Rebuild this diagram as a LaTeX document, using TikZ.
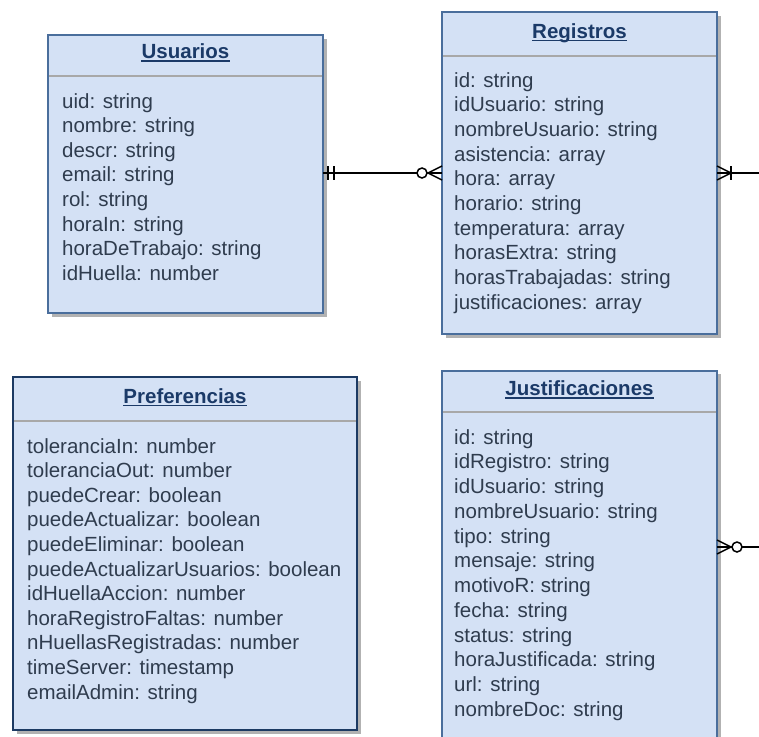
\documentclass[tikz,border=0pt]{standalone}
\usepackage{fontspec}
\setmainfont{Liberation Sans}
\usetikzlibrary{shadows}

\definecolor{entfill}{HTML}{D4E1F5}
\definecolor{entline}{HTML}{4A6E9C}
\definecolor{entdark}{HTML}{1C3A63}
\definecolor{hdrtext}{HTML}{1B3A68}
\definecolor{bodytext}{HTML}{2F3C4E}
\definecolor{sepline}{HTML}{A8A8A8}

\tikzset{
  entity/.style={draw=entline, line width=2pt, fill=entfill, anchor=north west,
    inner sep=0pt, outer sep=0pt,
    drop shadow={shadow xshift=3.5pt, shadow yshift=-3.5pt, fill=black!30, opacity=1}},
  title/.style={font=\fontsize{20.5}{24}\selectfont\bfseries, text=hdrtext, inner sep=0pt, anchor=base},
  field/.style={font=\fontsize{20.5}{24}\selectfont, text=bodytext, inner sep=0pt, anchor=base west},
  sepbar/.style={draw=sepline, line width=2pt},
  uline/.style={draw=hdrtext, line width=1.4pt},
  rel/.style={draw=black, line width=1.5pt},
  ring/.style={draw=black, line width=1.5pt, fill=white},
}

\begin{document}
\begin{tikzpicture}[x=1pt, y=-1pt]
\useasboundingbox (0,0) rectangle (759,736);
\clip (0,0) rectangle (759,736);

% ---------- Usuarios ----------
\node[entity, minimum width=275pt, minimum height=278pt] (usu) at (48,35) {};
\node[title] (usuT) at (185.5,58.5) {Usuarios};
\draw[uline] ([yshift=-2.5pt]usuT.base west) -- ([yshift=-2.5pt]usuT.base east);
\draw[sepbar] ([xshift=1pt,yshift=-41pt]usu.north west) -- ([xshift=-1pt,yshift=-41pt]usu.north east);
\foreach \t [count=\i from 0] in {uid: string, nombre: string, descr: string, email: string,
    rol: string, horaIn: string, horaDeTrabajo: string, idHuella: number}
  \node[field] (usuF\i) at (62,{108+24.6*\i}) {\t};

% ---------- Registros ----------
\node[entity, minimum width=275pt, minimum height=322pt] (reg) at (442,12) {};
\node[title] (regT) at (579.5,38) {Registros};
\draw[uline] ([yshift=-2.5pt]regT.base west) -- ([yshift=-2.5pt]regT.base east);
\draw[sepbar] ([xshift=1pt,yshift=-44pt]reg.north west) -- ([xshift=-1pt,yshift=-44pt]reg.north east);
\foreach \t [count=\i from 0] in {id: string, idUsuario: string, nombreUsuario: string,
    asistencia: array, hora: array, horario: string, temperatura: array,
    horasExtra: string, horasTrabajadas: string, justificaciones: array}
  \node[field] (regF\i) at (454,{87+24.7*\i}) {\t};

% ---------- Preferencias ----------
\node[entity, draw=entdark, line width=2.5pt, minimum width=344pt, minimum height=353pt] (pref) at (13,377) {};
\node[title] (prefT) at (185,403) {Preferencias};
\draw[uline] ([yshift=-2.5pt]prefT.base west) -- ([yshift=-2.5pt]prefT.base east);
\draw[sepbar] ([xshift=1.3pt,yshift=-44pt]pref.north west) -- ([xshift=-1.3pt,yshift=-44pt]pref.north east);
\foreach \t [count=\i from 0] in {toleranciaIn: number, toleranciaOut: number, puedeCrear: boolean,
    puedeActualizar: boolean, puedeEliminar: boolean, puedeActualizarUsuarios: boolean,
    idHuellaAccion: number, horaRegistroFaltas: number, nHuellasRegistradas: number,
    timeServer: timestamp, emailAdmin: string}
  \node[field] (prefF\i) at (27,{453+24.6*\i}) {\t};

% ---------- Justificaciones ----------
\node[entity, minimum width=275pt, minimum height=380pt] (jus) at (442,370.5) {};
\node[title] (jusT) at (579.5,395.5) {Justificaciones};
\draw[uline] ([yshift=-2.5pt]jusT.base west) -- ([yshift=-2.5pt]jusT.base east);
\draw[sepbar] ([xshift=1pt,yshift=-41.5pt]jus.north west) -- ([xshift=-1pt,yshift=-41.5pt]jus.north east);
\foreach \t [count=\i from 0] in {id: string, idRegistro: string, idUsuario: string,
    nombreUsuario: string, tipo: string, mensaje: string, motivoR: string, fecha: string,
    status: string, horaJustificada: string, url: string, nombreDoc: string}
  \node[field] (jusF\i) at (454,{444+24.75*\i}) {\t};

% ---------- Relationships ----------
\coordinate (yA) at (0,173);
\coordinate (yB) at (0,547);
\coordinate (usuR) at (usu.east |- yA);
\coordinate (regL) at (reg.west |- yA);
\coordinate (regR) at (reg.east |- yA);
\coordinate (jusR) at (jus.east |- yB);
\coordinate (outA) at (759,173);
\coordinate (outB) at (759,547);

% Usuarios (exactly one) -- Registros (zero or many)
\draw[rel] (usuR) -- (regL);
\draw[rel] ([xshift=5pt]usuR) ++(0,-7) -- ++(0,14);
\draw[rel] ([xshift=11pt]usuR) ++(0,-7) -- ++(0,14);
\draw[rel] ([yshift=7pt]regL) -- ([xshift=-14pt]regL) -- ([yshift=-7pt]regL);
\draw[ring] ([xshift=-20pt]regL) circle[radius=5pt];

% Registros (one or many) -- outgoing
\draw[rel] (regR) -- (outA);
\draw[rel] ([yshift=7pt]regR) -- ([xshift=14pt]regR) -- ([yshift=-7pt]regR);
\draw[rel] ([xshift=14pt]regR) ++(0,-7) -- ++(0,14);

% Justificaciones (zero or many) -- outgoing
\draw[rel] (jusR) -- (outB);
\draw[rel] ([yshift=7pt]jusR) -- ([xshift=14pt]jusR) -- ([yshift=-7pt]jusR);
\draw[ring] ([xshift=20pt]jusR) circle[radius=5pt];
\end{tikzpicture}
\end{document}
